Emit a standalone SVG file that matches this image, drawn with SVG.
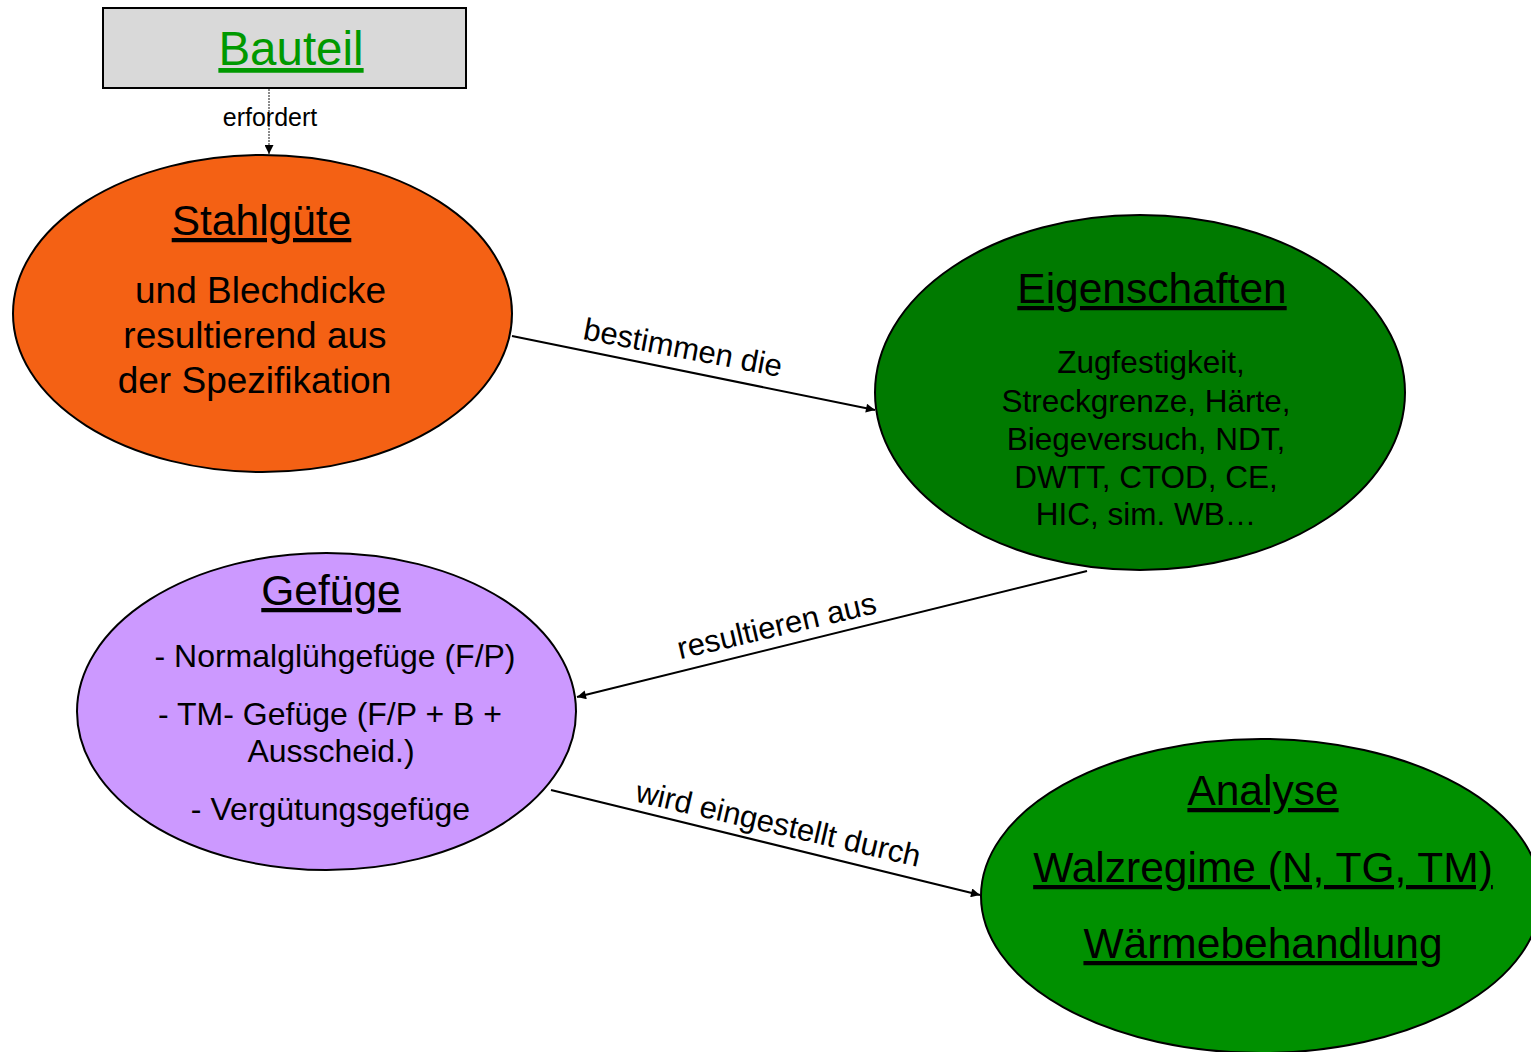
<svg xmlns="http://www.w3.org/2000/svg" width="1531" height="1052" viewBox="0 0 1531 1052">
<defs>
<style>
text{font-family:"Liberation Sans",Arial,sans-serif;fill:#000}
.node{stroke:#000;stroke-width:2}
.t{font-size:42.5px;text-anchor:middle;text-decoration:underline}
.b{font-size:31.5px;text-anchor:middle}
.g{font-size:32px;text-anchor:middle}
.lbl{font-size:31px;text-anchor:middle}
.edge{stroke:#000;stroke-width:2;fill:none;marker-end:url(#arr)}
</style>
<marker id="arr" viewBox="0 0 10 10" refX="10" refY="5" markerWidth="11" markerHeight="9" markerUnits="userSpaceOnUse" orient="auto">
<path d="M0,0 L10,5 L0,10 z" fill="#000"/>
</marker>
</defs>
<rect width="1531" height="1052" fill="#fff"/>

<g id="connectors">
<line x1="269" y1="89" x2="269" y2="154" stroke="#8a8a8a" stroke-width="2" stroke-dasharray="2,1" marker-end="url(#arr)"/>
<text x="270" y="126" style="font-size:25px;text-anchor:middle">erfordert</text>
<line class="edge" x1="512" y1="336" x2="875" y2="410"/>
<text class="lbl" transform="translate(681,358) rotate(10.8)">bestimmen die</text>
<line class="edge" x1="1087" y1="571" x2="577" y2="697"/>
<text class="lbl" transform="translate(779,636) rotate(-13.2)">resultieren aus</text>
<line class="edge" x1="551" y1="790" x2="980" y2="895"/>
<text class="lbl" transform="translate(776,834) rotate(13)">wird eingestellt durch</text>
</g>

<g id="bauteil">
<rect class="node" x="103" y="8" width="363" height="80" fill="#d9d9d9"/>
<text x="291" y="65" style="font-size:47.5px;text-anchor:middle;text-decoration:underline;fill:#009900">Bauteil</text>
</g>

<g id="stahlguete">
<ellipse class="node" cx="262.5" cy="313.5" rx="249.5" ry="158.5" fill="#f46114"/>
<text class="t" x="261.5" y="235">Stahlgüte</text>
<text class="b" style="font-size:37px" x="260.5" y="303">und Blechdicke</text>
<text class="b" style="font-size:37px" x="255" y="348">resultierend aus</text>
<text class="b" style="font-size:37px" x="254.5" y="393">der Spezifikation</text>
</g>

<g id="eigenschaften">
<ellipse class="node" cx="1140" cy="392.5" rx="265" ry="177.5" fill="#007a00"/>
<text class="t" x="1152" y="303">Eigenschaften</text>
<text class="b" x="1151" y="373">Zugfestigkeit,</text>
<text class="b" x="1146" y="412">Streckgrenze, Härte,</text>
<text class="b" x="1146" y="450">Biegeversuch, NDT,</text>
<text class="b" x="1146" y="488">DWTT, CTOD, CE,</text>
<text class="b" x="1146" y="525">HIC, sim. WB…</text>
</g>

<g id="gefuege">
<ellipse class="node" cx="326.5" cy="711.5" rx="249.5" ry="158.5" fill="#cc99ff"/>
<text class="t" x="331" y="605">Gefüge</text>
<text class="g" x="335" y="667">- Normalglühgefüge (F/P)</text>
<text class="g" x="330" y="725">- TM- Gefüge (F/P + B +</text>
<text class="g" x="331" y="762">Ausscheid.)</text>
<text class="g" x="330.5" y="820">- Vergütungsgefüge</text>
</g>

<g id="analyse">
<ellipse class="node" cx="1261" cy="896" rx="280" ry="157" fill="#009000"/>
<text class="t" x="1263" y="805">Analyse</text>
<text class="t" x="1263" y="882">Walzregime (N, TG, TM)</text>
<text class="t" x="1263" y="958">Wärmebehandlung</text>
</g>
</svg>
